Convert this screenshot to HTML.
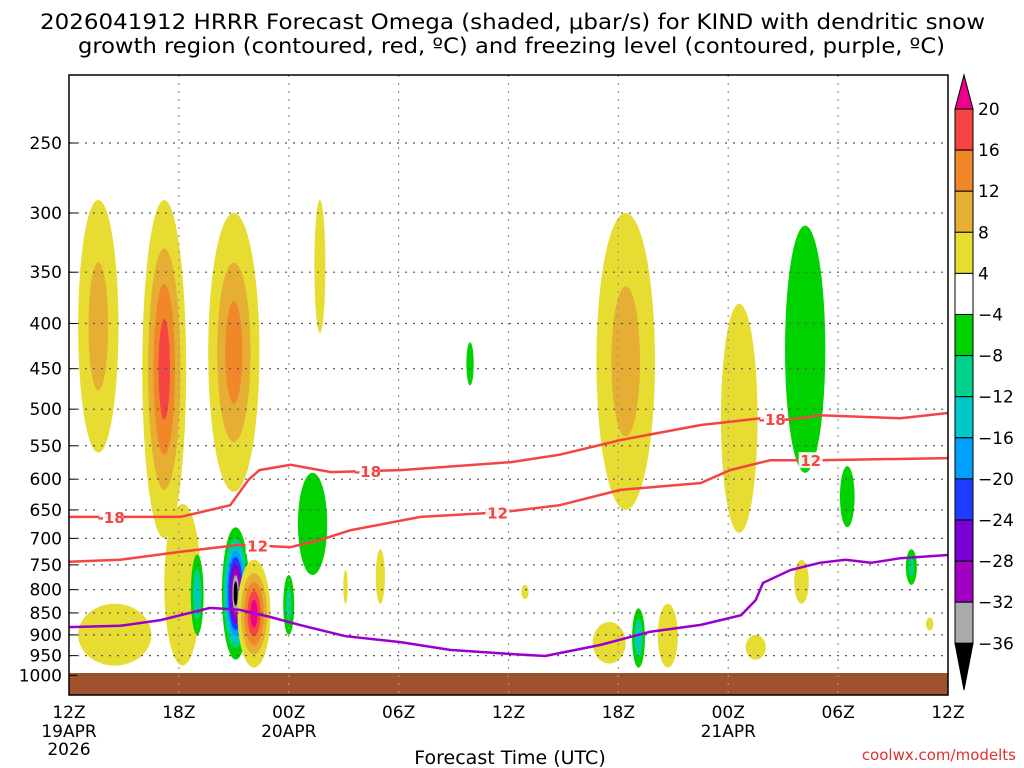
<!DOCTYPE html>
<html><head><meta charset="utf-8"><style>
html,body{margin:0;padding:0;background:#fff;}
svg{display:block;font-family:"DejaVu Sans","Liberation Sans",sans-serif;}
</style></head><body>
<svg id="chart" width="1024" height="768" viewBox="0 0 1024 768">
<text x="40" y="29" font-size="21" textLength="945" lengthAdjust="spacingAndGlyphs">2026041912 HRRR Forecast Omega (shaded, μbar/s) for KIND with dendritic snow</text>
<text x="78" y="53" font-size="21" textLength="867" lengthAdjust="spacingAndGlyphs">growth region (contoured, red, ºC) and freezing level (contoured, purple, ºC)</text>
<g id="plot"></g>
<text x="510" y="764" font-size="19" text-anchor="middle">Forecast Time (UTC)</text>
<text x="1016" y="760" font-size="15" fill="#e03030" text-anchor="end">coolwx.com/modelts</text>
</svg>
<script>
const pressureTicks=[250,300,350,400,450,500,550,600,650,700,750,800,850,900,950,1000];
const timeTicks=[0,6,12,18,24,30,36,42,48];
const timeLabels=["12Z","18Z","00Z","06Z","12Z","18Z","00Z","06Z","12Z"];
const dateLabels=[[0,"19APR"],[0,"2026"],[12,"20APR"],[36,"21APR"]];
// blobs: time(h), top p, bottom p, half-width (h), peak level
const blobT=[1.6,2.5,5.2,6.2,9.0,13.7,13.3,9.1,7.0,10.1,12.0,21.9,17.0,15.1,30.4,24.9,29.5,31.1,32.7,36.6,40.2,42.5,40.0,37.5,46.0,47.0];
const blobTop=[290,830,290,640,300,290,590,680,730,740,770,420,720,760,300,790,870,840,830,380,310,580,740,900,720,860];
const blobBot=[560,975,700,975,620,410,770,960,900,980,900,470,830,830,650,820,970,980,980,690,590,680,830,960,790,890];
const blobW=[1.1,2.0,1.2,1.0,1.4,0.3,0.8,0.75,0.35,0.9,0.3,0.2,0.25,0.12,1.6,0.2,0.9,0.35,0.55,1.0,1.1,0.4,0.4,0.55,0.3,0.2];
const blobPeak=[8,4,16,4,12,4,-4,-36,-12,20,-8,-4,4,4,8,4,4,-12,4,4,-4,-4,4,4,-8,4];
const levelsPos=[4,8,12,16,20];
const colorsPos=["#e6dc32","#e6ae32","#f0882a","#f44444","#ee0088"];
const levelsNeg=[-4,-8,-12,-16,-20,-24,-28,-32,-36];
const colorsNeg=["#00d200","#00d28c","#00c8c8","#00a0ff","#1e3cff","#7800d2","#a000c0","#aaaaaa","#000000"];
// contours
const dgzColdT=[0,6.1,8.8,9.8,10.4,12.1,14.3,18.1,24.1,26.8,30.1,34.5,37.8,39.4,41,45.4,48];
const dgzColdP=[662,662,642,601,586,578,589,586,574,563,542,521,512,514,508,512,505];
const dgzWarmT=[0,2.8,6.1,9.3,12.1,13.7,15.4,19.2,23.6,26.8,30.1,34.5,36.1,38.3,41,48];
const dgzWarmP=[744,740,725,712,716,703,685,662,654,642,617,606,586,571,571,568];
const frzT=[0,2.8,5,7.7,9.3,11,12.6,15.1,18.1,20.8,24.1,26,29,31.7,34.5,36.7,37.5,37.9,39.4,41,42.4,43.8,45.4,48];
const frzP=[882,879,866,839,843,859,877,903,917,936,946,951,924,893,877,855,822,786,760,746,740,746,737,731];
const coldLabels=[[2.3,"-18"],[16.3,"-18"],[38.4,"-18"]];
const warmLabels=[[10.3,"12"],[23.4,"12"],[40.5,"12"]];

const X0=69,X1=948,Y0=75,Y1=695;
const xs=h=>X0+h*(X1-X0)/48;
const ys=p=>143+384*Math.log(p/250);
const NS="http://www.w3.org/2000/svg";
const g=document.getElementById('plot');
function mk(t,a,parent){const e=document.createElementNS(NS,t);for(const k in a)e.setAttribute(k,a[k]);(parent||g).appendChild(e);return e;}

const shade=mk('g',{});


for(let i=0;i<blobT.length;i++){
  const pos=blobPeak[i]>0;
  const lv=pos?levelsPos:levelsNeg, cl=pos?colorsPos:colorsNeg;
  const n=lv.filter(v=>pos?v<=blobPeak[i]:v>=blobPeak[i]).length;
  const cx=xs(blobT[i]), yt=ys(blobTop[i]), yb=ys(blobBot[i]);
  const cy=(yt+yb)/2, ry0=(yb-yt)/2, rx0=blobW[i]*(X1-X0)/48;
  for(let k=0;k<n;k++){
    const s=1-k/n*0.9;
    const e=mk('ellipse',{cx:cx,cy:cy,rx:rx0*Math.pow(s,1.2),ry:ry0*(k==0?1:s*0.92),fill:cl[k]},shade);
    
    
  }
}
// ground
const gr=mk('rect',{x:X0,y:673,width:X1-X0,height:Y1-673,fill:'#a0522d'});


// grid
for(const p of pressureTicks){const l=mk('line',{x1:X0,x2:X1,y1:ys(p),y2:ys(p),stroke:'#555','stroke-dasharray':'2 6','stroke-width':1.2});


const t=mk('text',{x:62,y:ys(p)+6,'font-size':17,'text-anchor':'end'});t.textContent=p;


mk('line',{x1:X0,x2:X0+8,y1:ys(p),y2:ys(p),stroke:'#000'});}
timeTicks.forEach((h,i)=>{if(i>0&&i<8){const l=mk('line',{x1:xs(h),x2:xs(h),y1:Y0,y2:Y1,stroke:'#999','stroke-dasharray':'2 6','stroke-width':1.2});

}
const t=mk('text',{x:xs(h),y:718,'font-size':17,'text-anchor':'middle'});t.textContent=timeLabels[i];

});
dateLabels.forEach((d,i)=>{const t=mk('text',{x:xs(d[0]),y:d[1]=="2026"?755:737,'font-size':17,'text-anchor':'middle'});t.textContent=d[1];

});
// lines
function line(T,P,color,name){const d=T.map((h,i)=>(i?'L':'M')+xs(h).toFixed(1)+' '+ys(P[i]).toFixed(1)).join(' ');
const e=mk('path',{d:d,fill:'none',stroke:color,'stroke-width':2.5});

}
function interp(T,P,h){for(let i=1;i<T.length;i++)if(h<=T[i]){const f=(h-T[i-1])/(T[i]-T[i-1]);return P[i-1]+f*(P[i]-P[i-1]);}return P[P.length-1];}
line(dgzColdT,dgzColdP,'#f44444','dgz-minus18-contour');
line(dgzWarmT,dgzWarmP,'#f44444','dgz-minus12-contour');
line(frzT,frzP,'#9900cc','freezing-level-contour');
function labels(L,T,P){L.forEach(([h,s])=>{const x=xs(h),y=ys(interp(T,P,h));
mk('rect',{x:x-12,y:y-8,width:24,height:16,fill:'#fff','fill-opacity':0.9});
const t=mk('text',{x:x,y:y+6,'font-size':15,'font-weight':'bold',fill:'#f44444','text-anchor':'middle'});t.textContent=s;

});}
labels(coldLabels,dgzColdT,dgzColdP);labels(warmLabels,dgzWarmT,dgzWarmP);
// frame
const fr=mk('rect',{x:X0,y:Y0,width:X1-X0,height:Y1-Y0,fill:'none',stroke:'#000','stroke-width':1.5});


// colorbar
const cb=mk('g',{});


const cbLabels=[20,16,12,8,4,-4,-8,-12,-16,-20,-24,-28,-32,-36];
const cbColors=["#f44444","#f0882a","#e6ae32","#e6dc32","#ffffff","#00d200","#00d28c","#00c8c8","#00a0ff","#1e3cff","#7800d2","#a000c0","#aaaaaa"];
const cy0=109,cs=41.1,cx0=955,cw=18;
mk('path',{d:`M${cx0} ${cy0} L${cx0+cw/2} 75 L${cx0+cw} ${cy0} Z`,fill:'#ee0088',stroke:'#000'},cb);
cbColors.forEach((c,i)=>mk('rect',{x:cx0,y:cy0+i*cs,width:cw,height:cs,fill:c,stroke:'#000'},cb));
const yEnd=cy0+cbColors.length*cs;
mk('path',{d:`M${cx0} ${yEnd} L${cx0+cw/2} 690 L${cx0+cw} ${yEnd} Z`,fill:'#000',stroke:'#000'},cb);
cbLabels.forEach((v,i)=>{const t=mk('text',{x:978,y:cy0+i*cs+6,'font-size':17},cb);t.textContent=v<0?'\u2212'+(-v):v;

});
</script>
</body></html>
